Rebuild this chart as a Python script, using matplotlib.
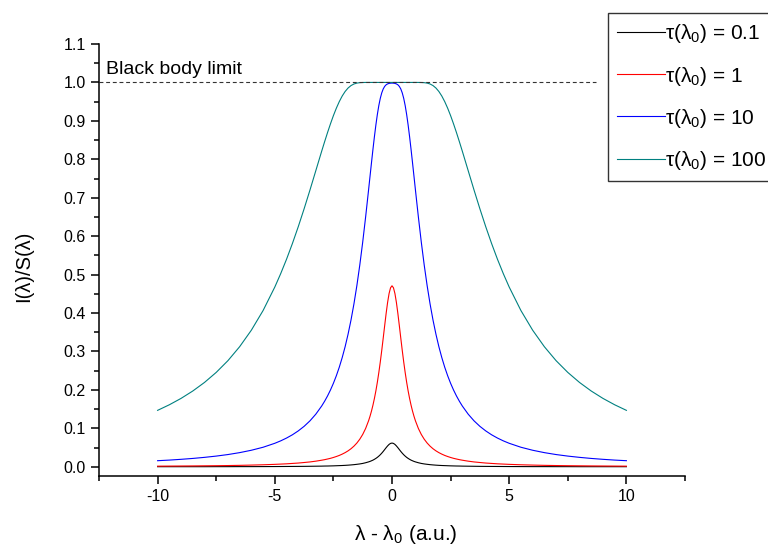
import matplotlib
matplotlib.use("Agg")
import matplotlib.pyplot as plt
from matplotlib.ticker import MultipleLocator

plt.rcParams['font.family'] = ['Liberation Sans', 'DejaVu Sans']
plt.rcParams['mathtext.fontset'] = 'custom'
plt.rcParams['mathtext.rm'] = 'Liberation Sans'
plt.rcParams['mathtext.it'] = 'Liberation Sans:italic'

# positive-side offsets (curves are symmetric about 0)
x_half = [0, 0.0625, 0.125, 0.1875, 0.25, 0.3125, 0.375, 0.4375, 0.5, 0.5625,
          0.625, 0.6875, 0.75, 0.8125, 0.875, 0.9375, 1.0, 1.125, 1.25, 1.375,
          1.5, 1.625, 1.75, 1.875, 2.0, 2.125, 2.25, 2.375, 2.5, 2.625, 2.75,
          2.875, 3.0, 3.25, 3.5, 3.75, 4.0, 4.25, 4.5, 4.75, 5.0, 5.5, 6.0, 6.5,
          7.0, 7.5, 8.0, 8.5, 9.0, 9.5, 10.0]

tau_01 = [0.0617, 0.0608, 0.0582, 0.0543, 0.0497, 0.0448, 0.0399, 0.0354, 0.0313,
          0.0277, 0.0245, 0.0218, 0.0194, 0.0173, 0.0156, 0.0140, 0.0127, 0.0105,
          0.0087, 0.0074, 0.0064, 0.0055, 0.0048, 0.0042, 0.0037, 0.0033, 0.0030,
          0.0027, 0.0024, 0.0022, 0.0020, 0.0019, 0.0017, 0.0015, 0.0013, 0.0011,
          0.0010, 0.0009, 0.0008, 0.0007, 0.0006, 0.0005, 0.0004, 0.0004, 0.0003,
          0.0003, 0.0002, 0.0002, 0.0002, 0.0002, 0.0002]
tau_1 = [0.4709, 0.4657, 0.4507, 0.4277, 0.3991, 0.3673, 0.3347, 0.3027, 0.2726,
         0.2450, 0.2200, 0.1976, 0.1779, 0.1604, 0.1450, 0.1315, 0.1196, 0.0997,
         0.0841, 0.0717, 0.0617, 0.0536, 0.0469, 0.0414, 0.0368, 0.0329, 0.0295,
         0.0267, 0.0242, 0.0220, 0.0202, 0.0185, 0.0171, 0.0146, 0.0126, 0.0111,
         0.0097, 0.0087, 0.0077, 0.0070, 0.0063, 0.0052, 0.0044, 0.0037, 0.0032,
         0.0028, 0.0025, 0.0022, 0.0020, 0.0018, 0.0016]
tau_10 = [0.9983, 0.9981, 0.9975, 0.9962, 0.9939, 0.9897, 0.9830, 0.9728, 0.9585,
          0.9398, 0.9166, 0.8895, 0.8590, 0.8260, 0.7913, 0.7558, 0.7201, 0.6501,
          0.5844, 0.5245, 0.4709, 0.4234, 0.3815, 0.3448, 0.3124, 0.2840, 0.2589,
          0.2368, 0.2172, 0.1998, 0.1843, 0.1705, 0.1581, 0.1369, 0.1195, 0.1052,
          0.0933, 0.0832, 0.0747, 0.0674, 0.0611, 0.0508, 0.0430, 0.0368, 0.0318,
          0.0278, 0.0245, 0.0217, 0.0194, 0.0174, 0.0158]
tau_100 = [1.0, 1.0, 1.0, 1.0, 1.0, 1.0, 1.0, 1.0, 1.0,
           1.0, 1.0, 1.0, 1.0, 1.0, 1.0, 1.0, 1.0, 1.0,
           0.9998, 0.9994, 0.9983, 0.9959, 0.9918, 0.9854, 0.9764, 0.9646, 0.9500,
           0.9329, 0.9136, 0.8923, 0.8696, 0.8457, 0.8211, 0.7705, 0.7200, 0.6711,
           0.6245, 0.5807, 0.5399, 0.5023, 0.4676, 0.4065, 0.3554, 0.3124, 0.2761,
           0.2455, 0.2194, 0.1971, 0.1779, 0.1613, 0.1468]

labels = [r'τ(λ$_0$) = 0.1', r'τ(λ$_0$) = 1', r'τ(λ$_0$) = 10', r'τ(λ$_0$) = 100']
colors = ['#000000', '#ff0000', '#0000ff', '#008080']
series = [tau_01, tau_1, tau_10, tau_100]

x_full = [-v for v in x_half[::-1]] + x_half[1:]

fig = plt.figure(figsize=(7.68, 5.48), dpi=100)
ax = fig.add_axes([99/768, 1-476/548, (685-99)/768, (476-44)/548])

handles = []
for ys, c, lab in zip(series, colors, labels):
    y_full = ys[::-1] + ys[1:]
    h, = ax.plot(x_full, y_full, color=c, lw=0.8, label=lab)
    handles.append(h)

ax.plot([-12.5, 8.7], [1.0, 1.0], color='#333333', lw=0.8, ls=(0, (3.5, 2.5)))
ax.text(-12.2, 1.023, 'Black body limit', fontsize=14, va='baseline', ha='left')

ax.set_xlim(-12.5, 12.5)
ax.set_ylim(-0.024, 1.1)
ax.spines['top'].set_visible(False)
ax.spines['right'].set_visible(False)
for s in ['left', 'bottom']:
    ax.spines[s].set_linewidth(1.1)
ax.xaxis.set_minor_locator(MultipleLocator(2.5))
ax.yaxis.set_minor_locator(MultipleLocator(0.05))
ax.set_xticks([-10, -5, 0, 5, 10])
ax.set_xticklabels(['-10', '-5', '0', '5', '10'])
ax.set_yticks([i/10 for i in range(12)])
ax.set_yticklabels(['%.1f' % (i/10) for i in range(12)])
ax.tick_params(which='major', length=6, width=1.1, labelsize=11.5, direction='out')
ax.tick_params(which='minor', length=3.5, width=1.1, direction='out')

fig.text(24/768, 1-266/548, 'I(λ)/S(λ)', rotation=90, fontsize=14.5, ha='center', va='center')
fig.text(406/768, 1-535/548, r'λ - λ$_0$ (a.u.)', fontsize=15, ha='center', va='center')

leg = fig.legend(handles=handles, loc='upper left', bbox_to_anchor=(608/768, 1-13/548),
                 fontsize=15, frameon=True, fancybox=False, handlelength=2.3,
                 handletextpad=0.0, labelspacing=0.92, borderpad=0.45, borderaxespad=0)
leg.get_frame().set_edgecolor('black')
leg.get_frame().set_linewidth(1.0)

fig.savefig('out.png', dpi=100)
